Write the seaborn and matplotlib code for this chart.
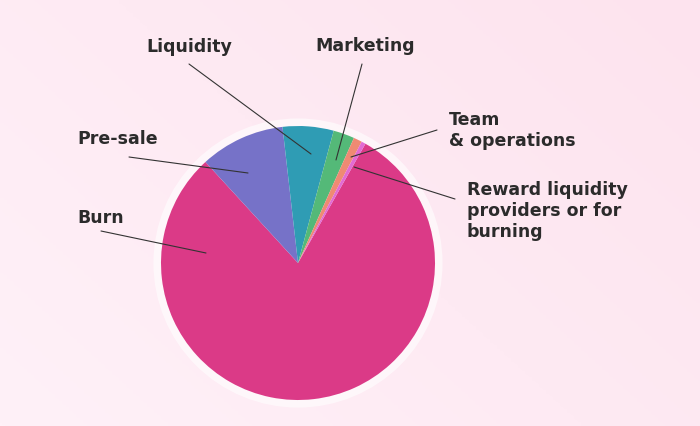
import numpy as np
import matplotlib
matplotlib.use("Agg")
import matplotlib.pyplot as plt
import seaborn as sns
from matplotlib.colors import LinearSegmentedColormap
from matplotlib.patches import Circle

# token allocation (percent of supply)
labels = ["Burn", "Pre-sale", "Liquidity", "Marketing", "Team\n& operations",
          "Reward liquidity\nproviders or for\nburning"]
shares = [80, 10, 6, 2.5, 1, 0.5]
colors = ["#db3a87", "#7672c8", "#2f9cb4", "#54b978", "#ef8a73", "#e26bd3"]

sns.set_style("white")
plt.rcParams["font.family"] = ["DejaVu Sans"]

W, H = 700, 426
fig = plt.figure(figsize=(W / 100, H / 100), dpi=100)

# soft pink gradient background
bg = fig.add_axes([0, 0, 1, 1], zorder=0)
gx, gy = np.meshgrid(np.linspace(0, 1, 200), np.linspace(0, 1, 200))
grad = 0.6 * gx + 0.4 * gy
cmap = LinearSegmentedColormap.from_list("bg", ["#fff1f8", "#fde3ee"])
bg.imshow(grad, cmap=cmap, aspect="auto", origin="lower", extent=[0, 1, 0, 1])
bg.axis("off")

# pie axes: center at (298, 263) px, radius 137 px
cx, cy, R = 298, 263, 137
ax = fig.add_axes([0, 0, 1, 1], zorder=1)


def px(x, y):
    return ((x - cx) / R, (cy - y) / R)


ax.add_patch(Circle((0, 0), 1.055, color="white", alpha=0.6, lw=0, zorder=1))
ax.pie(shares, colors=colors, startangle=60.5, counterclock=False,
       radius=1, center=(0, 0), frame=True,
       wedgeprops=dict(linewidth=0, zorder=2))
ax.set_xlim(-cx / R, (W - cx) / R)
ax.set_ylim(-(H - cy) / R, cy / R)
ax.set_aspect("equal")
ax.axis("off")

# label layout in pixels: text anchor, ha, va, line start, line end
layout = [
    ((77, 218), "left", "center", (101, 231), (206, 253)),
    ((77, 139), "left", "center", (129, 157), (248, 173)),
    ((189, 47), "center", "center", (189, 64), (311, 154)),
    ((365, 46), "center", "center", (362, 64), (336, 160)),
    ((449, 111), "left", "top", (437, 130), (351, 157)),
    ((467, 181), "left", "top", (455, 199), (354, 167)),
]

for lab, (tpos, ha, va, p0, p1) in zip(labels, layout):
    ax.text(*px(*tpos), lab, ha=ha, va=va, fontsize=12.5, fontweight="bold",
            color="#2b2b2b", linespacing=1.2, zorder=5)
    a, b = px(*p0), px(*p1)
    ax.plot([a[0], b[0]], [a[1], b[1]], color="#333333", lw=0.8, zorder=4)

fig.savefig("out.png", dpi=100)
